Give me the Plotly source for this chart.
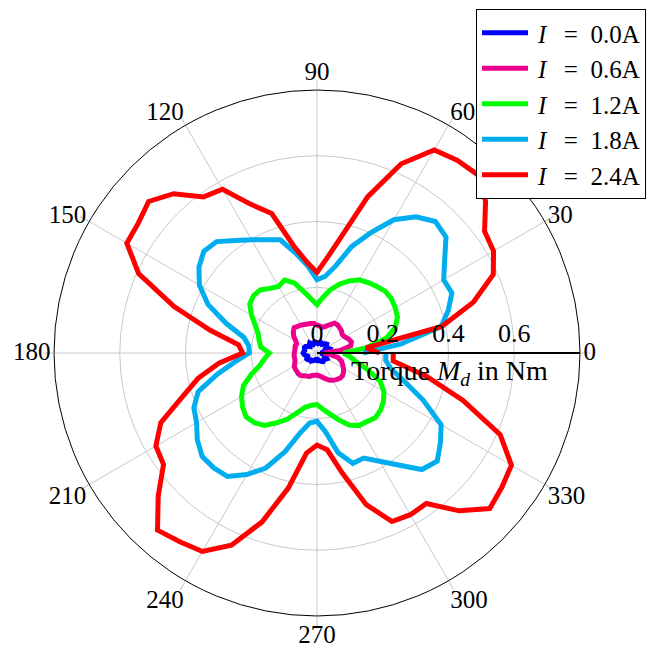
import plotly.graph_objects as go

# sampling angles in degrees (0..360 step 6)
angles = list(range(0, 361, 6))

torque_0_0A = [0.010, 0.030, 0.035, 0.040, 0.035, 0.030, 0.035, 0.040, 0.038, 0.035,
               0.030, 0.032, 0.035, 0.030, 0.028, 0.030, 0.033, 0.035, 0.030, 0.028,
               0.032, 0.038, 0.035, 0.030, 0.035, 0.040, 0.042, 0.040, 0.038, 0.040,
               0.042, 0.040, 0.035, 0.030, 0.032, 0.036, 0.035, 0.030, 0.028, 0.030,
               0.027, 0.025, 0.023, 0.020, 0.020, 0.022, 0.020, 0.022, 0.025, 0.028,
               0.030, 0.032, 0.030, 0.028, 0.032, 0.035, 0.030, 0.025, 0.020, 0.015,
               0.010]

torque_0_6A = [0.020, 0.070, 0.105, 0.110, 0.105, 0.098, 0.095, 0.100, 0.103, 0.106,
               0.105, 0.094, 0.085, 0.080, 0.082, 0.085, 0.090, 0.092, 0.093, 0.095,
               0.098, 0.100, 0.104, 0.097, 0.088, 0.075, 0.068, 0.070, 0.068, 0.068,
               0.069, 0.070, 0.070, 0.070, 0.074, 0.080, 0.082, 0.083, 0.085, 0.085,
               0.080, 0.077, 0.075, 0.070, 0.068, 0.067, 0.070, 0.075, 0.082, 0.090,
               0.096, 0.100, 0.104, 0.104, 0.100, 0.093, 0.085, 0.078, 0.065, 0.040,
               0.020]

torque_1_2A = [0.080, 0.150, 0.215, 0.250, 0.268, 0.275, 0.280, 0.280, 0.272, 0.265,
               0.257, 0.240, 0.220, 0.197, 0.170, 0.147, 0.165, 0.190, 0.224, 0.243,
               0.234, 0.243, 0.258, 0.260, 0.253, 0.230, 0.205, 0.188, 0.180, 0.172,
               0.145, 0.160, 0.177, 0.210, 0.245, 0.265, 0.280, 0.290, 0.285, 0.272,
               0.245, 0.220, 0.190, 0.168, 0.160, 0.157, 0.172, 0.190, 0.214, 0.240,
               0.255, 0.258, 0.265, 0.260, 0.250, 0.235, 0.210, 0.160, 0.120, 0.100,
               0.080]

torque_1_8A = [0.140, 0.255, 0.386, 0.420, 0.449, 0.445, 0.480, 0.528, 0.538, 0.512,
               0.468, 0.400, 0.340, 0.270, 0.234, 0.223, 0.266, 0.310, 0.362, 0.377,
               0.398, 0.423, 0.456, 0.463, 0.444, 0.413, 0.363, 0.290, 0.227, 0.209,
               0.206, 0.250, 0.310, 0.380, 0.410, 0.423, 0.450, 0.470, 0.470, 0.464,
               0.427, 0.383, 0.316, 0.249, 0.214, 0.208, 0.240, 0.310, 0.353, 0.350,
               0.380, 0.421, 0.477, 0.492, 0.464, 0.436, 0.354, 0.280, 0.230, 0.210,
               0.210]

torque_2_4A = [0.190, 0.150, 0.388, 0.500, 0.587, 0.620, 0.630, 0.690, 0.730, 0.725,
               0.713, 0.630, 0.500, 0.364, 0.290, 0.245, 0.276, 0.330, 0.446, 0.495,
               0.575, 0.587, 0.652, 0.689, 0.672, 0.668, 0.594, 0.457, 0.332, 0.240,
               0.226, 0.300, 0.370, 0.430, 0.520, 0.566, 0.577, 0.650, 0.725, 0.710,
               0.697, 0.640, 0.540, 0.420, 0.306, 0.280, 0.296, 0.375, 0.485, 0.561,
               0.568, 0.566, 0.646, 0.707, 0.695, 0.683, 0.610, 0.467, 0.340, 0.233,
               0.232]

current_labels = ["0.0A", "0.6A", "1.2A", "1.8A", "2.4A"]
series_names = [f"\u2009<i>I</i>\u2002\u2009=\u2002{c}" for c in current_labels]
series_values = [torque_0_0A, torque_0_6A, torque_1_2A, torque_1_8A, torque_2_4A]
series_colors = ["#0000FF", "#EC008C", "#00FF00", "#00AEEF", "#FF0000"]

radial_ticks = [0, 0.2, 0.4, 0.6]
radial_ticktext = ["0", "0.2", "0.4", "0.6"]
angular_ticks = [0, 30, 60, 90, 120, 150, 180, 210, 240, 270, 300, 330]

FONT = "Liberation Serif"
FS = 26

fig = go.Figure()
for name, vals, col in zip(series_names, series_values, series_colors):
    fig.add_trace(go.Scatterpolar(
        r=vals, theta=angles, mode="lines", name=name,
        line=dict(color=col, width=5),
    ))

# overlay polar subplot that only carries the angular tick labels
fig.add_trace(go.Scatterpolar(r=[None], theta=[None], subplot="polar2",
                              showlegend=False, hoverinfo="skip"))

fig.update_layout(
    width=658, height=646,
    margin=dict(l=54, r=78, t=90, b=30, autoexpand=False),
    paper_bgcolor="white",
    font=dict(family=FONT, size=FS, color="black"),
    polar=dict(
        domain=dict(x=[0, 1], y=[0, 1]),
        bgcolor="white",
        radialaxis=dict(
            range=[0, 0.8], angle=0, side="counterclockwise",
            tickvals=radial_ticks, ticktext=radial_ticktext,
            showline=True, linecolor="black", linewidth=2,
            gridcolor="#c8c8c8", gridwidth=1, ticks="",
            tickfont=dict(family=FONT, size=FS),
        ),
        angularaxis=dict(
            direction="counterclockwise", rotation=0,
            tickvals=angular_ticks, showticklabels=False,
            showline=True, linecolor="black", linewidth=1,
            gridcolor="#c8c8c8", gridwidth=1,
            ticks="outside", ticklen=10, tickcolor="#c8c8c8", tickwidth=1,
        ),
    ),
    polar2=dict(
        domain=dict(x=[2 / 526, 524 / 526], y=[4 / 526, 1]),
        bgcolor="rgba(0,0,0,0)",
        radialaxis=dict(visible=False, range=[0, 0.8]),
        angularaxis=dict(
            direction="counterclockwise", rotation=0,
            tickvals=angular_ticks, ticktext=[str(a) for a in angular_ticks],
            showline=True, linecolor="rgba(0,0,0,0)", linewidth=1,
            showgrid=False, ticks="",
            tickfont=dict(family=FONT, size=25),
        ),
    ),
    legend=dict(
        x=(476 - 54) / 526, xanchor="left",
        y=(616 - 9) / 526, yanchor="top",
        bgcolor="white", bordercolor="black", borderwidth=1,
        font=dict(family=FONT, size=25),
        itemwidth=46,
    ),
    annotations=[dict(
        text="Torque <i>M</i><sub><i>d</i></sub> in Nm",
        x=(449 - 54) / 526, y=(616 - 372) / 526,
        xref="paper", yref="paper", xanchor="center", yanchor="middle",
        showarrow=False,
        font=dict(family=FONT, size=28),
    )],
)

fig.write_html("out.html")
